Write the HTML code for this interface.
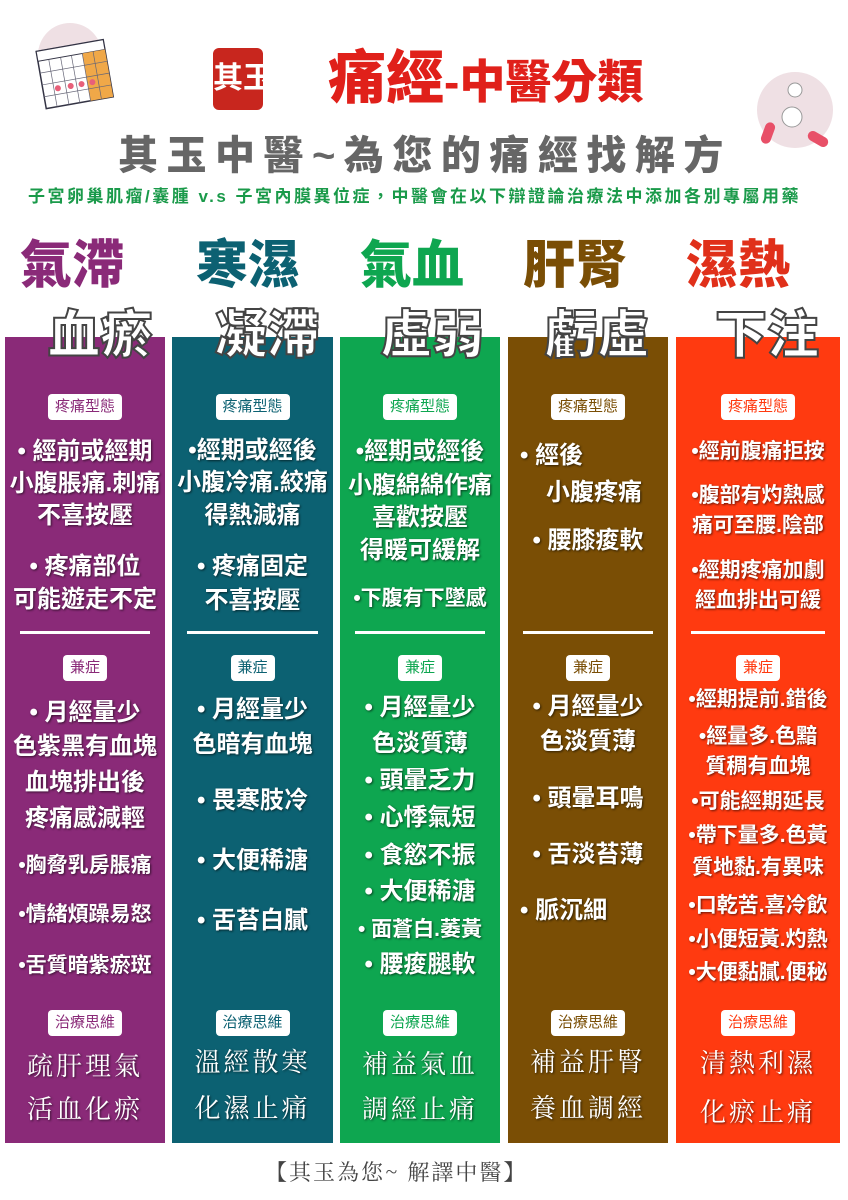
<!DOCTYPE html>
<html><head><meta charset="utf-8"><style>
*{margin:0;padding:0;box-sizing:border-box}
body{width:848px;height:1200px;background:#fff;position:relative;overflow:hidden;font-family:"Liberation Sans","Noto Sans CJK TC",sans-serif}
.a{position:absolute;white-space:nowrap}
.col{position:absolute;top:337px;height:806px}
.t{position:absolute;left:0;width:100%;text-align:center;color:#fff;font-weight:bold;font-size:24px;line-height:30px;white-space:nowrap;text-shadow:1px 1px 2px rgba(0,0,0,.6)}
.s{font-size:21px}
.lab{position:absolute;left:50%;transform:translateX(-50%);background:#fff;border-radius:4px;font-size:15px;line-height:26px;height:26px;padding:0 7px;font-weight:normal;white-space:nowrap}
.hr{position:absolute;left:15px;right:15px;top:294px;height:3px;background:#fff}
.tr{font-family:"Noto Serif CJK SC","Liberation Serif",serif;font-size:26px;letter-spacing:3px;font-weight:normal}
.h1{position:absolute;font-size:52px;font-weight:900;line-height:56px;white-space:nowrap}
.h2{position:absolute;font-size:52px;font-weight:900;line-height:56px;color:#fff;white-space:nowrap;-webkit-text-stroke:2px #444;z-index:2}
</style></head><body>
<svg class="a" style="left:15px;top:15px" width="120" height="100" viewBox="0 0 120 100">
<circle cx="55" cy="40" r="32" fill="#efe0e4"/>
<g transform="rotate(-10 60 55)">
<rect x="25" y="30" width="68" height="58" fill="#fff" stroke="#334" stroke-width="1.5"/>
<rect x="25" y="30" width="68" height="10" fill="#fff" stroke="#334"/>
<rect x="70" y="40" width="23" height="48" fill="#f0a848"/>
<g stroke="#667" stroke-width=".7"><line x1="36" y1="40" x2="36" y2="88"/><line x1="48" y1="40" x2="48" y2="88"/><line x1="59" y1="40" x2="59" y2="88"/><line x1="70" y1="40" x2="70" y2="88"/><line x1="81" y1="40" x2="81" y2="88"/><line x1="25" y1="52" x2="93" y2="52"/><line x1="25" y1="64" x2="93" y2="64"/><line x1="25" y1="76" x2="93" y2="76"/></g>
<g fill="#e8607a"><circle cx="40" cy="70" r="3"/><circle cx="53" cy="70" r="3"/><circle cx="64" cy="70" r="3"/><circle cx="75" cy="70" r="3"/></g>
</g></svg>
<div class="a" style="left:213px;top:48px;width:50px;height:62px;background:#c8261e;border-radius:6px;color:#fff;font-size:30px;font-weight:bold;text-align:center;line-height:62px">其玉</div>
<div class="a" style="left:328px;top:46px;color:#e0201a;font-weight:900;font-size:58px;line-height:66px">痛經<span style="font-size:46px">-中醫分類</span></div>
<svg class="a" style="left:755px;top:70px" width="80" height="80"><circle cx="40" cy="40" r="38" fill="#efe0e4"/><circle cx="40" cy="20" r="7" fill="#fff" stroke="#999"/><circle cx="37" cy="47" r="10" fill="#fff" stroke="#999"/><rect x="8" y="52" width="10" height="22" rx="5" fill="#e85068" transform="rotate(20 13 63)"/><rect x="58" y="58" width="10" height="22" rx="5" fill="#e85068" transform="rotate(-60 63 69)"/></svg>
<div class="a" style="left:118px;top:130px;color:#666;font-weight:900;font-size:40px;letter-spacing:8.5px;line-height:52px">其玉中醫~為您的痛經找解方</div>
<div class="a" style="left:28px;top:186px;color:#1a9a4a;font-size:17px;font-weight:bold;line-height:22px;letter-spacing:2.5px">子宮卵巢肌瘤/囊腫 v.s 子宮內膜異位症，中醫會在以下辯證論治療法中添加各別專屬用藥</div>
<div class="h1" style="left:20px;top:238px;color:#8a2a78">氣滯</div>
<div class="h1" style="left:196px;top:238px;color:#0c6172">寒濕</div>
<div class="h1" style="left:360px;top:238px;color:#0ea650">氣血</div>
<div class="h1" style="left:523px;top:238px;color:#7a4e05">肝腎</div>
<div class="h1" style="left:686px;top:238px;color:#e0301a">濕熱</div>
<div class="h2" style="left:48px;top:308px">血瘀</div>
<div class="h2" style="left:215px;top:308px">凝滯</div>
<div class="h2" style="left:380px;top:308px">虛弱</div>
<div class="h2" style="left:545px;top:308px">虧虛</div>
<div class="h2" style="left:715px;top:308px">下注</div>

<div class="col" style="left:5px;width:160px;background:#8a2a78">
<div class="lab" style="top:57px;color:#8a2a78">疼痛型態</div>
<div class="t" style="top:100px">• 經前或經期</div><div class="t" style="top:132px">小腹脹痛.刺痛</div><div class="t" style="top:164px">不喜按壓</div>
<div class="t" style="top:215px">• 疼痛部位</div><div class="t" style="top:248px">可能遊走不定</div>
<div class="hr"></div>
<div class="lab" style="top:318px;color:#8a2a78">兼症</div>
<div class="t" style="top:361px">• 月經量少</div><div class="t" style="top:395px">色紫黑有血塊</div><div class="t" style="top:431px">血塊排出後</div><div class="t" style="top:467px">疼痛感減輕</div>
<div class="t s" style="top:514px">•胸脅乳房脹痛</div><div class="t s" style="top:563px">•情緒煩躁易怒</div><div class="t s" style="top:614px">•舌質暗紫瘀斑</div>
<div class="lab" style="top:673px;color:#8a2a78">治療思維</div>
<div class="t tr" style="top:713px">疏肝理氣</div><div class="t tr" style="top:756px">活血化瘀</div>
</div>

<div class="col" style="left:172px;width:161px;background:#0c6172">
<div class="lab" style="top:57px;color:#0c6172">疼痛型態</div>
<div class="t" style="top:99px">•經期或經後</div><div class="t" style="top:131px">小腹冷痛.絞痛</div><div class="t" style="top:164px">得熱減痛</div>
<div class="t" style="top:215px">• 疼痛固定</div><div class="t" style="top:249px">不喜按壓</div>
<div class="hr"></div>
<div class="lab" style="top:318px;color:#0c6172">兼症</div>
<div class="t" style="top:358px">• 月經量少</div><div class="t" style="top:393px">色暗有血塊</div>
<div class="t" style="top:449px">• 畏寒肢冷</div><div class="t" style="top:509px">• 大便稀溏</div><div class="t" style="top:569px">• 舌苔白膩</div>
<div class="lab" style="top:673px;color:#0c6172">治療思維</div>
<div class="t tr" style="top:709px">溫經散寒</div><div class="t tr" style="top:755px">化濕止痛</div>
</div>

<div class="col" style="left:340px;width:160px;background:#0ea650">
<div class="lab" style="top:57px;color:#0ea650">疼痛型態</div>
<div class="t" style="top:100px">•經期或經後</div><div class="t" style="top:134px">小腹綿綿作痛</div><div class="t" style="top:166px">喜歡按壓</div><div class="t" style="top:199px">得暖可緩解</div>
<div class="t s" style="top:247px">•下腹有下墜感</div>
<div class="hr"></div>
<div class="lab" style="top:318px;color:#0ea650">兼症</div>
<div class="t" style="top:356px">• 月經量少</div><div class="t" style="top:392px">色淡質薄</div><div class="t" style="top:429px">• 頭暈乏力</div><div class="t" style="top:466px">• 心悸氣短</div><div class="t" style="top:504px">• 食慾不振</div><div class="t" style="top:540px">• 大便稀溏</div><div class="t s" style="top:578px">• 面蒼白.萎黃</div><div class="t" style="top:613px">• 腰痠腿軟</div>
<div class="lab" style="top:673px;color:#0ea650">治療思維</div>
<div class="t tr" style="top:711px">補益氣血</div><div class="t tr" style="top:756px">調經止痛</div>
</div>

<div class="col" style="left:508px;width:160px;background:#7a4e05">
<div class="lab" style="top:57px;color:#7a4e05">疼痛型態</div>
<div class="t" style="top:104px;text-align:left;padding-left:12px">• 經後</div><div class="t" style="top:141px;padding-left:12px">小腹疼痛</div><div class="t" style="top:189px">• 腰膝痠軟</div>
<div class="hr"></div>
<div class="lab" style="top:318px;color:#7a4e05">兼症</div>
<div class="t" style="top:355px">• 月經量少</div><div class="t" style="top:390px">色淡質薄</div><div class="t" style="top:447px">• 頭暈耳鳴</div><div class="t" style="top:503px">• 舌淡苔薄</div><div class="t" style="top:559px;text-align:left;padding-left:12px">• 脈沉細</div>
<div class="lab" style="top:673px;color:#7a4e05">治療思維</div>
<div class="t tr" style="top:709px">補益肝腎</div><div class="t tr" style="top:755px">養血調經</div>
</div>

<div class="col" style="left:676px;width:164px;background:#ff3a10">
<div class="lab" style="top:57px;color:#ff3a10">疼痛型態</div>
<div class="t s" style="top:100px">•經前腹痛拒按</div><div class="t s" style="top:144px">•腹部有灼熱感</div><div class="t s" style="top:174px">痛可至腰.陰部</div><div class="t s" style="top:219px">•經期疼痛加劇</div><div class="t s" style="top:249px">經血排出可緩</div>
<div class="hr"></div>
<div class="lab" style="top:318px;color:#ff3a10">兼症</div>
<div class="t s" style="top:348px">•經期提前.錯後</div><div class="t s" style="top:385px">•經量多.色黯</div><div class="t s" style="top:415px">質稠有血塊</div><div class="t s" style="top:450px">•可能經期延長</div><div class="t s" style="top:484px">•帶下量多.色黃</div><div class="t s" style="top:516px">質地黏.有異味</div><div class="t s" style="top:554px">•口乾苦.喜冷飲</div><div class="t s" style="top:588px">•小便短黃.灼熱</div><div class="t s" style="top:621px">•大便黏膩.便秘</div>
<div class="lab" style="top:673px;color:#ff3a10">治療思維</div>
<div class="t tr" style="top:710px">清熱利濕</div><div class="t tr" style="top:759px">化瘀止痛</div>
</div>

<div class="a" style="left:265px;top:1158px;color:#444;font-size:22px;letter-spacing:2px;line-height:28px;font-family:'Noto Serif CJK SC',serif">【其玉為您~ 解譯中醫】</div>
</body></html>
